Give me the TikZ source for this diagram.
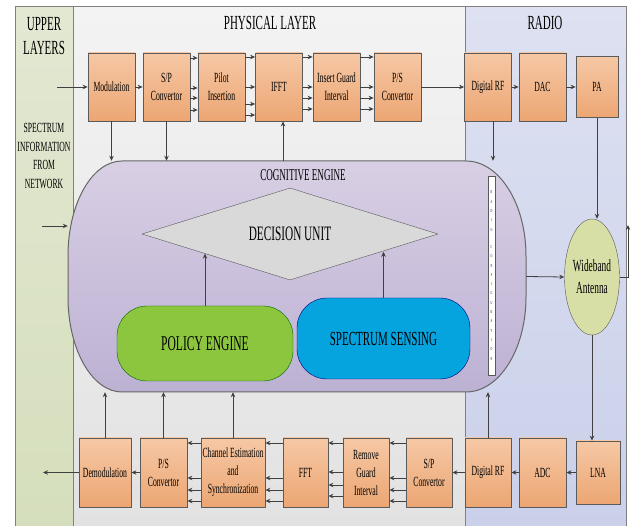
\documentclass[tikz,border=0pt]{standalone}
\usepackage{fontspec}
\setmainfont{Liberation Serif}[FakeStretch=0.55]
\usetikzlibrary{positioning,calc,arrows.meta,shapes.geometric}

\definecolor{blktop}{HTML}{F6C8A5}
\definecolor{blkbot}{HTML}{ECA673}
\definecolor{boxline}{HTML}{5A5A5A}
\definecolor{lineclr}{HTML}{404040}
\definecolor{uppertop}{HTML}{E3E8D2}
\definecolor{upperbot}{HTML}{D5DEBC}
\definecolor{phytop}{HTML}{F3F3F3}
\definecolor{phybot}{HTML}{E2E2E2}
\definecolor{radtop}{HTML}{DDE1F1}
\definecolor{radbot}{HTML}{CAD0EA}
\definecolor{cogtop}{HTML}{D8CFE4}
\definecolor{cogbot}{HTML}{BDB1D3}
\definecolor{decfill}{HTML}{D9D9D9}
\definecolor{polfill}{HTML}{8CC63F}
\definecolor{specfill}{HTML}{06A4DF}
\definecolor{antfill}{HTML}{D7DEA6}

\begin{document}
\begin{tikzpicture}[
        x=1pt, y=-1pt, % one unit is one pixel, y runs downwards
        % orange processing blocks
        blk/.style={draw=boxline, line width=0.8pt, top color=blktop, bottom color=blkbot,
            minimum width=47pt, minimum height=68pt, inner sep=0pt, align=center,
            font=\fontsize{14}{18}\selectfont},
        % connectors between the blocks
        arr/.style={draw=lineclr, line width=0.8pt, -{Stealth[length=5pt,width=4.5pt]}},
        % the three layer panels and their titles
        panel/.style={draw=gray, line width=1pt},
        title/.style={font=\fontsize{20}{24}\selectfont, align=center}
    ]

    \useasboundingbox (0,0) rectangle (630,526);

    % Draw the panels
    \path[panel, top color=uppertop, bottom color=upperbot] (15,7) rectangle (73,530);
    \path[panel, top color=phytop, bottom color=phybot] (73,7) rectangle (465,530);
    \path[panel, top color=radtop, bottom color=radbot] (465,7) rectangle (626,530);

    \node[title] (upper) at (44,36) {UPPER\\LAYERS};
    \node[title] (phy) at (270,23) {PHYSICAL LAYER};
    \node[title] (rad) at (545,23) {RADIO};
    \node[font=\fontsize{14}{18.5}\selectfont, align=center] (info) at (44,156)
        {SPECTRUM\\INFORMATION\\FROM\\NETWORK};

    % Free ends inside the upper layers panel
    \coordinate (upin) at (57,87);
    \coordinate (upcog) at (42,226);
    \coordinate (upout) at (43,472.5);
    \coordinate (edge) at (628,225);

    % Transmit chain
    \node[blk] (mod) at (111.5,87) {Modulation};
    \node[blk] (sp) at (166.5,87) {S/P\\Convertor};
    \node[blk] (pilot) at (221.5,87) {Pilot\\Insertion};
    \node[blk] (ifft) at (279,87) {IFFT};
    \node[blk] (guard) at (336.5,87) {Insert Guard\\Interval};
    \node[blk] (ps) at (397.5,87) {P/S\\Convertor};
    \node[blk] (rftx) at (488,87) {Digital RF};
    \node[blk] (dac) at (542.5,87) {DAC};
    \node[blk, minimum width=42pt, minimum height=61pt] (pa) at (597,87) {PA};

    % Receive chain
    \node[blk, minimum width=52pt, minimum height=69pt] (demod) at (105,472.5) {Demodulation};
    \node[blk, minimum height=69pt] (psrx) at (163.5,472.5) {P/S\\Convertor};
    \node[blk, minimum width=64pt, minimum height=69pt] (chan) at (233,472.5)
        {Channel Estimation\\and\\Synchronization};
    \node[blk, minimum width=45pt, minimum height=69pt] (fft) at (305.5,472.5) {FFT};
    \node[blk, minimum width=46pt, minimum height=69pt] (rmguard) at (366,472.5) {Remove\\Guard\\Interval};
    \node[blk, minimum width=46pt, minimum height=69pt] (sprx) at (429,472.5) {S/P\\Convertor};
    \node[blk, minimum width=46pt, minimum height=69pt] (rfrx) at (488,472.5) {Digital RF};
    \node[blk, minimum height=69pt] (adc) at (542.5,472.5) {ADC};
    \node[blk, minimum width=44pt, minimum height=63pt] (lna) at (598,472.5) {LNA};

    % Cognitive engine: a box with elliptic ends
    \node[minimum width=458pt, minimum height=231pt, inner sep=0pt] (cog) at (297,276.5) {};
    \path[draw=gray!80!black, line width=1pt, top color=cogtop, bottom color=cogbot]
        (122,161) -- (466,161)
        arc[start angle=-90, end angle=0, x radius=60, y radius=95] -- (526,297)
        arc[start angle=0, end angle=90, x radius=60, y radius=95] -- (122,392)
        arc[start angle=90, end angle=180, x radius=54, y radius=95] -- (68,256)
        arc[start angle=180, end angle=270, x radius=54, y radius=95] -- cycle;
    \node[font=\fontsize{16.5}{20}\selectfont] (coglbl) at (303,175) {COGNITIVE ENGINE};

    \node[diamond, aspect=3, draw=gray!70!black, fill=decfill, minimum width=296pt,
        minimum height=92pt, inner sep=0pt, font=\fontsize{20.5}{24}\selectfont]
        (dec) at (290,234) {DECISION UNIT};
    \node[draw=green!40!black, fill=polfill, rounded corners=30pt, minimum width=176pt,
        minimum height=75pt, font=\fontsize{21}{25}\selectfont] (pol) at (205,343.5) {POLICY ENGINE};
    \node[draw=blue!50!black, fill=specfill, rounded corners=30pt, minimum width=173pt,
        minimum height=81pt, font=\fontsize{20}{24}\selectfont] (spec) at (383.5,338.5) {SPECTRUM SENSING};

    % Radio configuration strip
    \node[draw=boxline, fill=white, minimum width=7pt, minimum height=199pt, inner sep=0pt,
        align=center, text=blue!40!black, font=\fontsize{4.5}{9.3}\selectfont] (radcfg) at (491.5,275.5)
        {R\\A\\D\\I\\O\\[8pt]C\\O\\N\\F\\I\\G\\U\\R\\A\\T\\I\\O\\N};

    % Wideband antenna
    \node[ellipse, draw=boxline, fill=antfill, minimum width=55pt, minimum height=116pt,
        inner sep=0pt, align=center, font=\fontsize{17}{22}\selectfont] (ant) at (592,277) {Wideband\\Antenna};

    % Transmit connectors
    \draw[arr] (upin) -- (mod);
    \draw[arr] (mod) -- (sp);
    \foreach \y in {58,88,98,110}
        \draw[arr] (sp.east |- 0,\y) -- (pilot.west |- 0,\y);
    \foreach \y in {57,87,104,115}
        \draw[arr] (pilot.east |- 0,\y) -- (ifft.west |- 0,\y);
    \foreach \y in {57,87,98,109}
    {
        \draw[arr] (ifft.east |- 0,\y) -- (guard.west |- 0,\y);
        \draw[arr] (guard.east |- 0,\y) -- (ps.west |- 0,\y);
    }
    \draw[arr] (ps) -- (rftx);
    \draw[arr] (rftx) -- (dac);
    \draw[arr] (dac) -- (pa);

    % Links with the cognitive engine
    \draw[arr] (mod.south) -- (mod.south |- cog.north);
    \draw[arr] (sp.south) -- (sp.south |- cog.north);
    \draw[arr] ([xshift=4pt]ifft.south |- cog.north) -- ([xshift=4pt]ifft.south);
    \draw[arr] ([xshift=5pt]rftx.south) -- ([xshift=5pt]rftx.south |- cog.north);
    \draw[arr] (upcog) -- (upcog -| cog.west);
    \draw[arr] (cog.east) -- (ant.west);
    \draw[arr] (pol.north) -- (pol.north |- dec.193);
    \draw[arr] (spec.north) -- (spec.north |- dec.349);
    \foreach \blk in {demod,psrx,chan,rfrx}
        \draw[arr] (\blk.north) -- (\blk.north |- cog.south);

    % Antenna links
    \draw[arr] (pa.south) -- (pa.south |- ant.north);
    \draw[arr] (ant.east) -| (edge);
    \draw[arr] (ant.south) -- (ant.south |- lna.north);

    % Receive connectors
    \draw[arr] (lna) -- (adc);
    \draw[arr] (adc) -- (rfrx);
    \draw[arr] (rfrx) -- (sprx);
    \foreach \y in {443,478,490,501}
        \draw[arr] (sprx.west |- 0,\y) -- (rmguard.east |- 0,\y);
    \foreach \y in {443,472,485,496}
        \draw[arr] (rmguard.west |- 0,\y) -- (fft.east |- 0,\y);
    \foreach \y in {443,478,490,501}
    {
        \draw[arr] (fft.west |- 0,\y) -- (chan.east |- 0,\y);
        \draw[arr] (chan.west |- 0,\y) -- (psrx.east |- 0,\y);
    }
    \draw[arr] (psrx) -- (demod);
    \draw[arr] (demod) -- (upout);

\end{tikzpicture}
\end{document}
